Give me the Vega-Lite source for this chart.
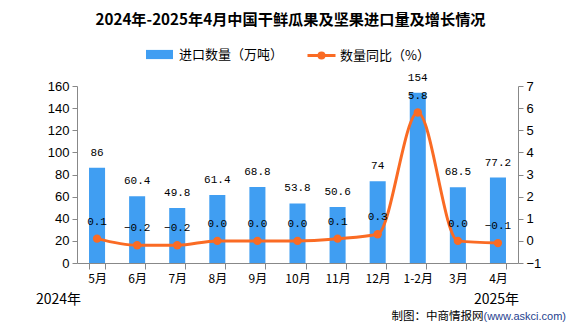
{
  "$schema": "https://vega.github.io/schema/vega-lite/v6.json",
  "width": 441,
  "height": 177,
  "autosize": "none",
  "padding": {"left": 77, "top": 86, "right": 58, "bottom": 64},
  "background": "white",
  "title": {
    "text": "2024年-2025年4月中国干鲜瓜果及坚果进口量及增长情况",
    "font": "Noto Sans CJK SC",
    "fontSize": 15.2,
    "fontWeight": "bold",
    "color": "#000000",
    "anchor": "middle",
    "frame": "group",
    "offset": 12,
    "dx": -7
  },
  "data": {
    "values": [
      {"month": "5月", "qty": 86, "yoy": 0.1},
      {"month": "6月", "qty": 60.4, "yoy": -0.2},
      {"month": "7月", "qty": 49.8, "yoy": -0.2},
      {"month": "8月", "qty": 61.4, "yoy": 0.0},
      {"month": "9月", "qty": 68.8, "yoy": 0.0},
      {"month": "10月", "qty": 53.8, "yoy": 0.0},
      {"month": "11月", "qty": 50.6, "yoy": 0.1},
      {"month": "12月", "qty": 74, "yoy": 0.3},
      {"month": "1-2月", "qty": 154, "yoy": 5.8},
      {"month": "3月", "qty": 68.5, "yoy": 0.0},
      {"month": "4月", "qty": 77.2, "yoy": -0.1}
    ]
  },
  "config": {
    "view": {"stroke": null},
    "axis": {"grid": false, "domainColor": "#888888", "tickColor": "#888888", "labelColor": "#000000", "titleColor": "#000000"}
  },
  "layer": [
    {
      "encoding": {
        "x": {
          "field": "month", "type": "nominal", "sort": null,
          "scale": {"paddingInner": 0.6, "paddingOuter": 0.3},
          "axis": {
            "orient": "bottom", "labelAngle": 0, "tickBand": "extent", "tickSize": 6,
            "labelPadding": 4, "labelFont": "Noto Sans CJK SC", "labelFontSize": 12,
            "title": "2025年", "titleFont": "Noto Sans CJK SC", "titleFontSize": 14, "titleFontWeight": "normal",
            "titleAngle": 0, "titleAlign": "center", "titleBaseline": "middle", "titleX": 419, "titleY": 36
          }
        },
        "y": {
          "field": "qty", "type": "quantitative",
          "scale": {"domain": [0, 160], "nice": false},
          "axis": {
            "orient": "left", "values": [0, 20, 40, 60, 80, 100, 120, 140, 160], "tickSize": 5, "labelPadding": 3,
            "labelFont": "Liberation Sans", "labelFontSize": 13,
            "title": "2024年", "titleFont": "Noto Sans CJK SC", "titleFontSize": 14, "titleFontWeight": "normal",
            "titleAngle": 0, "titleAlign": "center", "titleBaseline": "middle", "titleX": -19, "titleY": 213
          }
        }
      },
      "layer": [
        {
          "mark": {"type": "bar", "color": "#409ef2"},
          "encoding": {
            "fill": {
              "datum": "进口数量（万吨）",
              "scale": {"range": ["#409ef2"]},
              "legend": {
                "orient": "none", "legendX": 68, "legendY": -46, "title": null, "padding": 0,
                "symbolType": "M-1,-0.34H1V0.34H-1Z", "symbolSize": 729, "labelOffset": 5,
                "labelFont": "Noto Sans CJK SC", "labelFontSize": 13, "labelColor": "#000000"
              }
            }
          }
        },
        {
          "mark": {"type": "text", "dy": -15, "font": "Liberation Mono", "fontSize": 11, "color": "#000000", "baseline": "middle"},
          "encoding": {"text": {"field": "qty", "type": "quantitative"}}
        }
      ]
    },
    {
      "encoding": {
        "x": {
          "field": "month", "type": "nominal", "sort": null,
          "axis": {
            "orient": "top", "labels": false, "ticks": false, "domain": false,
            "title": "(www.askci.com)", "titleFont": "Liberation Sans", "titleFontSize": 11, "titleFontWeight": "normal",
            "titleColor": "#1f3f8f", "titleAngle": 0, "titleAlign": "left", "titleBaseline": "middle", "titleX": 406, "titleY": 230
          }
        },
        "y": {
          "field": "yoy", "type": "quantitative",
          "scale": {"domain": [-1, 7], "nice": false},
          "axis": {
            "orient": "right", "values": [-1, 0, 1, 2, 3, 4, 5, 6, 7], "tickSize": 5, "labelPadding": 3,
            "labelFont": "Liberation Sans", "labelFontSize": 13,
            "title": "制图：中商情报网", "titleFont": "Noto Sans CJK SC", "titleFontSize": 11.5, "titleFontWeight": "normal",
            "titleAngle": 0, "titleAlign": "right", "titleBaseline": "middle", "titleX": -35, "titleY": 230
          }
        }
      },
      "layer": [
        {
          "mark": {"type": "line", "interpolate": "monotone", "strokeWidth": 3},
          "encoding": {
            "stroke": {
              "datum": "数量同比（%）",
              "scale": {"range": ["#fa6b24"]},
              "legend": {
                "orient": "none", "legendX": 229, "legendY": -46, "title": null, "padding": 0,
                "symbolType": "M-1,0H1M-0.18,0A0.18,0.18,0,1,1,0.18,0A0.18,0.18,0,1,1,-0.18,0Z",
                "symbolSize": 784, "symbolStrokeWidth": 3, "labelOffset": 3,
                "labelFont": "Noto Sans CJK SC", "labelFontSize": 13, "labelColor": "#000000",
                "encode": {"symbols": {"update": {"fill": {"value": "#fa6b24"}}}}
              }
            }
          }
        },
        {
          "mark": {"type": "point", "filled": true, "size": 70, "color": "#fa6b24", "opacity": 1}
        },
        {
          "mark": {"type": "text", "dy": -17, "font": "Liberation Mono", "fontSize": 11, "color": "#000000", "baseline": "middle"},
          "encoding": {"text": {"field": "yoy", "type": "quantitative", "format": ".1f"}}
        }
      ]
    }
  ],
  "resolve": {"scale": {"y": "independent", "fill": "independent", "stroke": "independent"}, "axis": {"x": "independent"}}
}
